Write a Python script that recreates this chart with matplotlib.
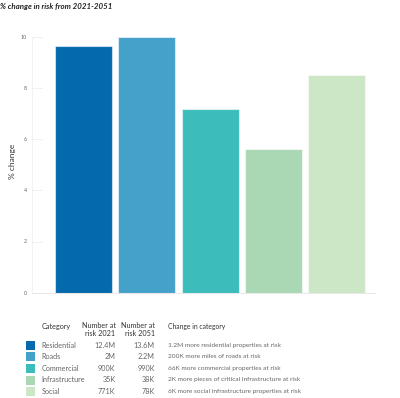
import matplotlib
matplotlib.use("Agg")
import matplotlib.pyplot as plt
from matplotlib.patches import Rectangle

categories = ["Residential", "Roads", "Commercial", "Infrastructure", "Social"]
pct_change = [9.65, 9.98, 7.16, 5.60, 8.50]
risk_2021 = ["12.4M", "2M", "900K", "35K", "771K"]
risk_2051 = ["13.6M", "2.2M", "990K", "38K", "78K"]
change_text = [
    "1.2M more residential properties at risk",
    "200K more miles of roads at risk",
    "66K more commercial properties at risk",
    "2K more pieces of critical infrastructure at risk",
    "6K more social infrastructure properties at risk",
]
yticks = [0, 2, 4, 6, 8, 10]
colors = ["#0569ad", "#44a1ca", "#3cbdbc", "#abd8b4", "#cce7c5"]

plt.rcParams['font.family'] = ['Lato', 'DejaVu Sans']

W, H = 400, 398
fig = plt.figure(figsize=(W / 100, H / 100), dpi=100)

def fx(px):
    return px / W

def fy(py):
    return 1 - py / H

ax_l, ax_r, ax_t, ax_b = 31.7, 375, 36.7, 292.7
ax = fig.add_axes([fx(ax_l), fy(ax_b), fx(ax_r - ax_l), (ax_b - ax_t) / H])
x = range(len(categories))
ax.bar(x, pct_change, width=0.9, color=colors, edgecolor=(1, 1, 1, 0.55), linewidth=0.8)
ax.set_xlim(-0.815, 4.6)
ax.set_ylim(0, 10)
ax.set_yticks(yticks)
ax.set_yticklabels([str(v) for v in yticks])
ax.set_xticks([])
ax.tick_params(axis='y', direction='in', length=7.2, width=0.6, color='#eeeeee',
               labelsize=3.8, labelcolor='#666666', pad=3.5)
for s in ['top', 'right']:
    ax.spines[s].set_visible(False)
ax.spines['left'].set_color('#f0f0f0')
ax.spines['left'].set_linewidth(0.6)
ax.spines['bottom'].set_color('#e4e4e4')
ax.spines['bottom'].set_linewidth(0.6)

fig.text(fx(12), fy(161), "% change", rotation=90, ha='center', va='center',
         fontsize=6, color='#333333')
fig.text(fx(0), fy(6.5), "% change in risk from 2021-2051", ha='left', va='center',
         fontsize=5.7, style='italic', fontweight='bold', color='#222222')

# table
hdr_color = '#333333'
row_color = '#666666'
fs = 5.2
fig.text(fx(41.7), fy(326), "Category", ha='left', va='center', fontsize=fs, color=hdr_color)
fig.text(fx(115.5), fy(326), "Number at", ha='right', va='center', fontsize=fs, color=hdr_color)
fig.text(fx(115.5), fy(333.5), "risk 2021", ha='right', va='center', fontsize=fs, color=hdr_color)
fig.text(fx(155), fy(326), "Number at", ha='right', va='center', fontsize=fs, color=hdr_color)
fig.text(fx(155), fy(333.5), "risk 2051", ha='right', va='center', fontsize=fs, color=hdr_color)
fig.text(fx(168), fy(326), "Change in category", ha='left', va='center', fontsize=4.9, color=hdr_color)

row_y = [345.2, 356.8, 368.4, 380.0, 391.6]
for i, cat in enumerate(categories):
    y = row_y[i]
    fig.patches.append(Rectangle((fx(25.5), fy(y + 4.5)), fx(9), 9 / H,
                                 transform=fig.transFigure, facecolor=colors[i],
                                 edgecolor='none'))
    fig.text(fx(41.7), fy(y), cat, ha='left', va='center', fontsize=fs, color=row_color)
    fig.text(fx(115.5), fy(y), risk_2021[i], ha='right', va='center', fontsize=fs, color=row_color)
    fig.text(fx(155), fy(y), risk_2051[i], ha='right', va='center', fontsize=fs, color=row_color)
    fig.text(fx(168), fy(y), change_text[i], ha='left', va='center', fontsize=4.65, color=row_color)

fig.savefig("out.png", dpi=100)
